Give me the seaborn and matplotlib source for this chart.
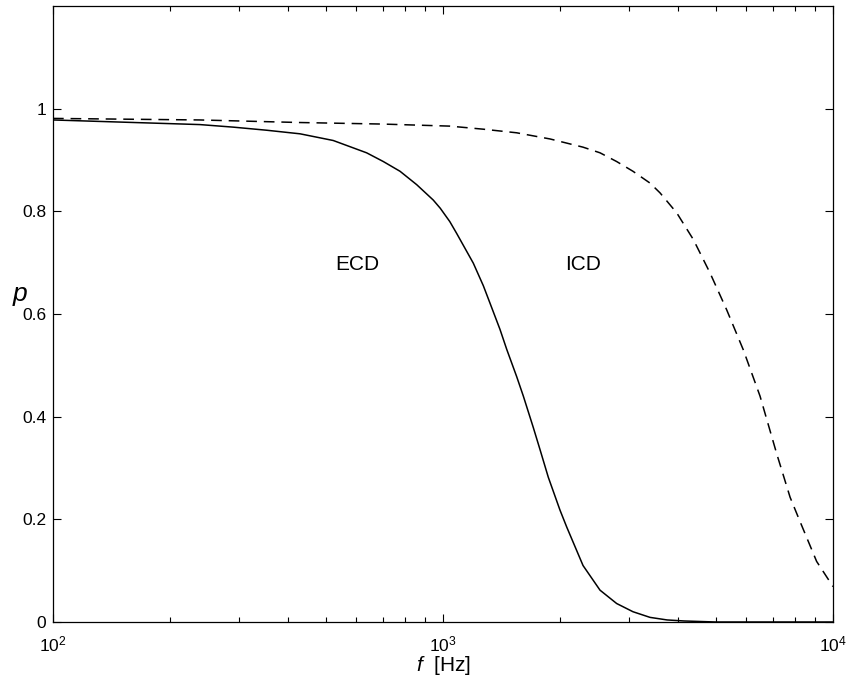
import matplotlib
matplotlib.use("Agg")
import matplotlib.pyplot as plt
import matplotlib.ticker as mticker
import seaborn as sns
import pandas as pd

# ECD (solid) curve
f_ecd = [100, 238, 290, 353, 430, 523, 637, 703, 776, 856, 944, 984, 1041,
         1084, 1196, 1269, 1320, 1400, 1457, 1545, 1607, 1704, 1773, 1862,
         1995, 2076, 2286, 2527, 2788, 3070, 3395, 3755, 4150, 5000, 10000]
p_ecd = [0.978, 0.969, 0.964, 0.958, 0.951, 0.938, 0.914, 0.897, 0.878, 0.852,
         0.822, 0.806, 0.780, 0.757, 0.699, 0.655, 0.621, 0.570, 0.531, 0.478,
         0.440, 0.379, 0.336, 0.282, 0.218, 0.185, 0.110, 0.062, 0.036, 0.020,
         0.009, 0.004, 0.002, 0.0, 0.0]

# ICD (dashed) curve
f_icd = [100, 238, 430, 700, 1041, 1269, 1545, 1881, 2286, 2527, 2788, 3070,
         3395, 3601, 3975, 4385, 4838, 5339, 5890, 6500, 7171, 7762, 8228,
         9079, 10000]
p_icd = [0.981, 0.978, 0.973, 0.970, 0.966, 0.960, 0.953, 0.941, 0.925, 0.914,
         0.897, 0.878, 0.855, 0.836, 0.797, 0.745, 0.680, 0.608, 0.530, 0.440,
         0.328, 0.243, 0.196, 0.118, 0.069]

y_ticks = [0, 0.2, 0.4, 0.6, 0.8, 1]
y_tick_labels = ['0', '0.2', '0.4', '0.6', '0.8', '1']

sns.set_style("ticks")
plt.rcParams['font.family'] = ['Liberation Sans', 'DejaVu Sans']
plt.rcParams['mathtext.fontset'] = 'custom'
plt.rcParams['mathtext.rm'] = 'Liberation Sans'
plt.rcParams['mathtext.it'] = 'Liberation Sans:italic'
plt.rcParams['text.color'] = 'black'
plt.rcParams['axes.labelcolor'] = 'black'
plt.rcParams['xtick.color'] = 'black'
plt.rcParams['ytick.color'] = 'black'
plt.rcParams['axes.edgecolor'] = 'black'

fig = plt.figure(figsize=(8.46, 6.81), dpi=100)
ax = fig.add_axes([53/846, 59/681, 780/846, 616/681])

ecd = pd.DataFrame({'f': f_ecd, 'p': p_ecd})
icd = pd.DataFrame({'f': f_icd, 'p': p_icd})
sns.lineplot(data=ecd, x='f', y='p', ax=ax, color='black', linewidth=1.1)
sns.lineplot(data=icd, x='f', y='p', ax=ax, color='black', linewidth=1.1)
ax.lines[-1].set_dashes([7, 4.5])

ax.set_xscale('log')
ax.set_xlim(100, 10000)
ax.set_ylim(0, 1.2)
ax.set_yticks(y_ticks)
ax.set_yticklabels(y_tick_labels)
ax.xaxis.set_minor_locator(mticker.LogLocator(base=10, subs=range(2, 10)))
ax.xaxis.set_minor_formatter(mticker.NullFormatter())

ax.tick_params(which='both', direction='in', top=True, right=True,
               labelsize=12.5, width=0.8, pad=5)
ax.tick_params(axis='x', which='major', pad=9)
ax.tick_params(which='major', length=6)
ax.tick_params(which='minor', length=3.5)
for s in ax.spines.values():
    s.set_linewidth(0.9)

ax.set_xlabel(r'$f$  [Hz]', fontsize=15, labelpad=0)
ax.set_ylabel(r'$p$', fontsize=19, rotation=0)
ax.yaxis.set_label_coords(-0.042, 0.51)

ax.text(603, 0.696, 'ECD', fontsize=15, ha='center', va='center')
ax.text(2286, 0.696, 'ICD', fontsize=15, ha='center', va='center')

fig.savefig('out.png', dpi=100)
